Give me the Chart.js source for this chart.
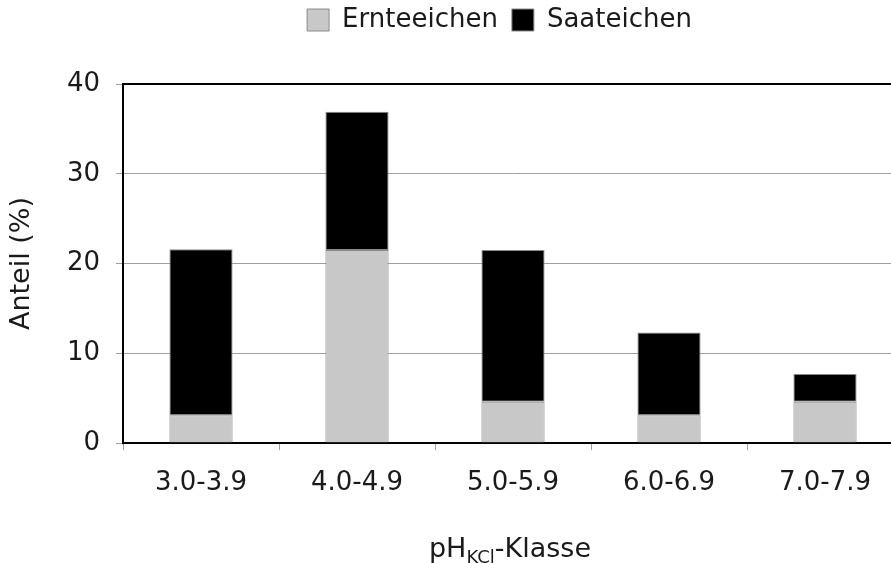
<!DOCTYPE html>
<html>
<head>
<meta charset="utf-8">
<script src="https://cdn.jsdelivr.net/npm/chart.js@4/dist/chart.umd.min.js"></script>
<style>
  html, body { margin: 0; padding: 0; background: #fff; overflow: hidden; }
  #wrap { width: 891px; height: 563px; overflow: hidden; }
</style>
</head>
<body>
<div id="wrap"><canvas id="chart" width="903" height="563"></canvas></div>
<script>
// pH classes and shares (% of all stands)
const categories = ['3.0-3.9', '4.0-4.9', '5.0-5.9', '6.0-6.9', '7.0-7.9'];
const ernteeichen = [3.1, 21.5, 4.6, 3.1, 4.6];
const saateichen = [18.5, 15.4, 16.9, 9.2, 3.1];
const yTicks = [0, 10, 20, 30, 40];

const FONT = 'DejaVu Sans, Verdana, sans-serif';
const TEXT = '#1a1a1a';
const GRID = '#a0a0a0';

// frame on top and right of the plot area
const framePlugin = {
  id: 'frame',
  beforeDatasetsDraw(chart) {
    const { ctx, chartArea: a } = chart;
    ctx.save();
    ctx.strokeStyle = '#000';
    ctx.lineWidth = 2;
    ctx.beginPath();
    ctx.moveTo(a.left, a.top);
    ctx.lineTo(a.right, a.top);
    ctx.lineTo(a.right, a.bottom);
    ctx.stroke();
    ctx.restore();
  }
};

// x-axis title with subscript "KCl"
const xTitlePlugin = {
  id: 'xTitle',
  afterDraw(chart) {
    const { ctx, chartArea: a } = chart;
    const parts = [
      { t: 'pH', size: 27, dy: 0 },
      { t: 'KCl', size: 18, dy: 6 },
      { t: '-Klasse', size: 27, dy: 0 }
    ];
    ctx.save();
    ctx.fillStyle = TEXT;
    ctx.textBaseline = 'alphabetic';
    ctx.textAlign = 'left';
    let total = 0;
    parts.forEach(p => {
      ctx.font = p.size + 'px ' + FONT;
      p.w = ctx.measureText(p.t).width;
      total += p.w;
    });
    let x = (a.left + a.right) / 2 - total / 2 - 3;
    const base = 557;
    parts.forEach(p => {
      ctx.font = p.size + 'px ' + FONT;
      ctx.fillText(p.t, x, base + p.dy);
      x += p.w;
    });
    ctx.restore();
  }
};

// put the legend where the original one sits
const legendShift = {
  id: 'legendShift',
  afterLayout(chart) {
    const lg = chart.legend;
    if (!lg) return;
    const h = lg.bottom - lg.top;
    lg.left += 48; lg.right += 48;
    lg.top = -7; lg.bottom = lg.top + h;
  }
};

const ctx = document.getElementById('chart').getContext('2d');
new Chart(ctx, {
  type: 'bar',
  data: {
    labels: categories,
    datasets: [
      {
        label: 'Ernteeichen',
        data: ernteeichen,
        backgroundColor: '#c8c8c8',
        borderColor: '#8a8a8a',
        borderWidth: 1,
        borderSkipped: false
      },
      {
        label: 'Saateichen',
        data: saateichen,
        backgroundColor: '#000000',
        borderColor: '#8a8a8a',
        borderWidth: 1,
        borderSkipped: false
      }
    ]
  },
  options: {
    responsive: false,
    animation: false,
    devicePixelRatio: 1,
    layout: { padding: 0 },
    datasets: { bar: { barPercentage: 0.405, categoryPercentage: 1 } },
    plugins: {
      tooltip: { enabled: false },
      legend: {
        position: 'top',
        labels: {
          boxWidth: 22,
          boxHeight: 22,
          padding: 14,
          color: TEXT,
          font: { family: FONT, size: 26 }
        }
      }
    },
    scales: {
      x: {
        stacked: true,
        grid: { drawOnChartArea: false, drawTicks: true, tickLength: 7, color: GRID },
        border: { display: true, color: '#000', width: 2 },
        ticks: { color: TEXT, padding: 18, font: { family: FONT, size: 26 } },
        afterFit(scale) {
          scale.height = 120;
          scale.paddingLeft = 0;
          scale.paddingRight = 0;
        }
      },
      y: {
        stacked: true,
        min: 0,
        max: 40,
        afterBuildTicks(scale) {
          scale.ticks = yTicks.map(v => ({ value: v }));
        },
        grid: { color: GRID, lineWidth: 1, tickLength: 7 },
        border: { display: true, color: '#000', width: 2 },
        ticks: { color: TEXT, padding: 16, font: { family: FONT, size: 26 } },
        title: {
          display: true,
          text: 'Anteil (%)',
          color: TEXT,
          font: { family: FONT, size: 27 },
          padding: { top: 6, bottom: 0 }
        },
        afterFit(scale) {
          scale.width = 123;
          scale.paddingTop = 84;
        }
      }
    }
  },
  plugins: [framePlugin, xTitlePlugin, legendShift]
});
</script>
</body>
</html>
